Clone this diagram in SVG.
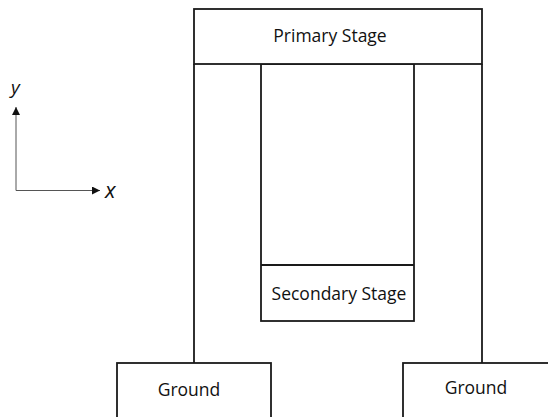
<svg xmlns="http://www.w3.org/2000/svg" width="548" height="417" viewBox="0 0 548 417">
  <style>
    .box { fill: #ffffff; stroke: #1a1a1a; stroke-width: 1.8; }
    .leg { fill: none; stroke: #1a1a1a; stroke-width: 1.8; }
    .axis { fill: none; stroke: #555555; stroke-width: 1; }
    .label { font-family: "Open Sans", "Noto Sans", sans-serif; font-size: 17.5px; fill: #111111; text-anchor: middle; }
    .axlabel { font-family: "Open Sans", "Noto Sans", sans-serif; font-style: italic; fill: #111111; }
  </style>
  <defs>
    <marker id="arrow" viewBox="0 0 10 10" refX="10" refY="5" markerWidth="9" markerHeight="8" markerUnits="userSpaceOnUse" orient="auto">
      <path d="M0,0 L10,5 L0,10 z" fill="#111111"/>
    </marker>
  </defs>

  <!-- coordinate axes -->
  <g id="axes">
    <line class="axis" x1="16" y1="190.5" x2="16" y2="107" marker-end="url(#arrow)"/>
    <line class="axis" x1="16" y1="190.5" x2="100" y2="190.5" marker-end="url(#arrow)"/>
    <text class="axlabel" x="11" y="94" font-size="19">y</text>
    <text class="axlabel" x="105" y="198" font-size="22">x</text>
  </g>

  <!-- frame legs linking the stages and the ground blocks -->
  <g id="connectors">
    <line class="leg" x1="194" y1="64" x2="194" y2="363"/>
    <line class="leg" x1="482" y1="64" x2="482" y2="363"/>
  </g>

  <g id="secondary-stage">
    <rect class="box" x="261" y="64" width="153" height="257"/>
    <line class="leg" x1="261" y1="265" x2="414" y2="265"/>
    <text class="label" x="339" y="300">Secondary Stage</text>
  </g>

  <g id="primary-stage">
    <rect class="box" x="194" y="9" width="288" height="55"/>
    <text class="label" x="330" y="42">Primary Stage</text>
  </g>

  <g id="ground-left">
    <rect class="box" x="117" y="363" width="154" height="60"/>
    <text class="label" x="189" y="396">Ground</text>
  </g>

  <g id="ground-right">
    <rect class="box" x="403" y="363" width="160" height="60"/>
    <text class="label" x="476" y="394">Ground</text>
  </g>
</svg>
